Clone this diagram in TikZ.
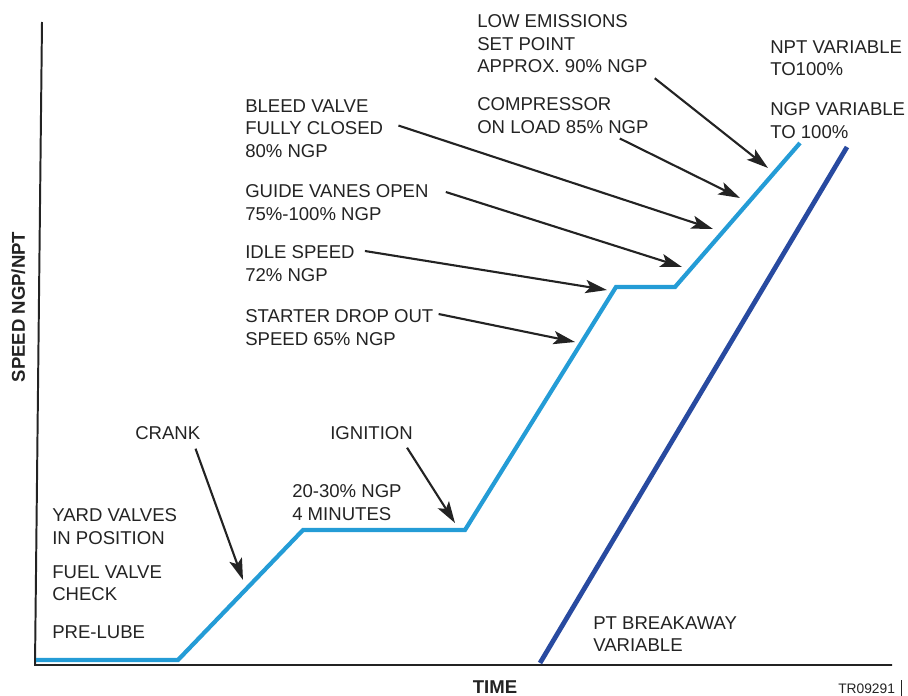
\documentclass[tikz,border=0pt]{standalone}
\usepackage{fontspec}
\setmainfont{Liberation Sans}
\usepackage{tikz}
\usetikzlibrary{arrows.meta,calc,positioning}
\definecolor{ngpblue}{RGB}{36,156,214}
\definecolor{nptblue}{RGB}{40,74,160}
\definecolor{inkgrey}{RGB}{35,35,35}
\tikzstyle{note} = [inner sep=0pt, anchor=north west, align=left,
    text=inkgrey, font=\fontsize{13.2pt}{16.2pt}\selectfont]
\tikzstyle{heading} = [inner sep=0pt, text=inkgrey,
    font=\fontsize{13.2pt}{16.2pt}\selectfont\bfseries]
\tikzstyle{pointer} = [draw=inkgrey, line width=1.5pt, -{Stealth[length=5.4mm,width=3.3mm,inset=1.2mm]}]
\tikzstyle{axis} = [draw=inkgrey, line width=1.4pt]
\tikzstyle{ngpline} = [draw=ngpblue, line width=3pt]
\tikzstyle{nptline} = [draw=nptblue, line width=3.4pt]

\begin{document}
\begin{tikzpicture}[x=0.025cm, y=-0.025cm]
    \useasboundingbox (0,0) rectangle (908,696);
    % Axes
    \path [axis] (42,22) -- (35,665) -- (892,665);
    \node [heading, anchor=base, rotate=90] (speed) at (25,307) {SPEED NGP/NPT};
    \node [heading, anchor=base] (time) at (495,693) {TIME};
    % Speed curves
    \coordinate (c0) at (36,660);
    \coordinate (c1) at (178,660);
    \coordinate (c2) at (303,530);
    \coordinate (c3) at (465,530);
    \coordinate (c4) at (616,287);
    \coordinate (c5) at (675,287);
    \coordinate (c6) at (800,143);
    \coordinate (d0) at (540,663);
    \coordinate (d1) at (847,147);
    \path [ngpline] (c0) -- (c1) -- (c2) -- (c3) -- (c4) -- (c5) -- (c6);
    \path [nptline] (d0) -- (d1);
    % Place nodes
    \node [note] (lowem) at (477,14) {LOW EMISSIONS\\SET POINT\\APPROX. 90\% NGP};
    \node [note] (comp) at (477,97) {COMPRESSOR\\ON LOAD 85\% NGP};
    \node [note] (npt) at (770,40) {NPT VARIABLE\\TO100\%};
    \node [note] (ngp) at (770,102) {NGP VARIABLE\\TO 100\%};
    \node [note] (bleed) at (245,99) {BLEED VALVE\\FULLY CLOSED\\80\% NGP};
    \node [note] (guide) at (245,184) {GUIDE VANES OPEN\\75\%-100\% NGP};
    \node [note] (idle) at (245,245) {IDLE SPEED\\72\% NGP};
    \node [note] (starter) at (245,309) {STARTER DROP OUT\\SPEED 65\% NGP};
    \node [note] (crank) at (135,426) {CRANK};
    \node [note] (ign) at (330,426) {IGNITION};
    \node [note] (dwell) at (292,484) {20-30\% NGP\\4 MINUTES};
    \node [note] (yard) at (52,508) {YARD VALVES\\IN POSITION};
    \node [note] (fuel) at (52,565) {FUEL VALVE\\CHECK};
    \node [note] (prelube) at (52,625) {PRE-LUBE};
    \node [note] (breakaway) at (593,616) {PT BREAKAWAY\\VARIABLE};
    \node [note, anchor=base west, font=\fontsize{9.8pt}{12pt}\selectfont] (tag) at (838,693) {TR09291};
    \draw [inkgrey, line width=1pt] ($(tag.base east)+(6,-13)$) -- ++(0,16);
    % Arrow tips on the curve
    \coordinate (lowtip) at (768,168);
    \coordinate (comptip) at (740,198);
    \coordinate (bleedtip) at (713,229);
    \coordinate (guidetip) at (682,267);
    \coordinate (idletip) at (607,290);
    \coordinate (startertip) at (575,342);
    \coordinate (igntip) at (455,523);
    \coordinate (cranktip) at (243,580);
    \path [pointer] ($(lowem.south east)+(7,5)$) -- (lowtip);
    \path [pointer] ($(comp.south east)+(-29,5)$) -- (comptip);
    \path [pointer] ($(bleed.east)+(15,-3)$) -- (bleedtip);
    \path [pointer] ($(guide.north east)+(17,8)$) -- (guidetip);
    \path [pointer] ($(idle.north east)+(10,6)$) -- (idletip);
    \path [pointer] ($(starter.north east)+(5,5)$) -- (startertip);
    \path [pointer] ($(ign.south east)+(-6,8)$) -- (igntip);
    \path [pointer] ($(crank.south east)+(-5,9)$) -- (cranktip);
\end{tikzpicture}
\end{document}
